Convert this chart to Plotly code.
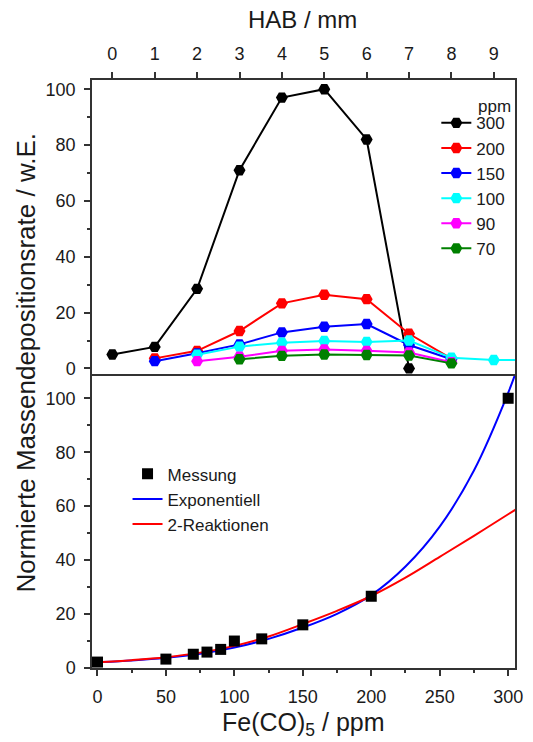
import plotly.graph_objects as go

# ---------------- data ----------------
hab = [0, 1, 2, 3, 4, 5, 6, 7, 8, 9, 10]
series_names = ["300", "200", "150", "100", "90", "70"]
series_colors = ["#000000", "#ff0000", "#0000ff", "#00ffff", "#ff00ff", "#008000"]
s300 = [5.0, 7.7, 28.5, 71.0, 97.0, 100.0, 82.0, 0.0, None, None, None]
s200 = [None, 3.6, 6.3, 13.4, 23.3, 26.4, 24.8, 12.4, 3.5, None, None]
s150 = [None, 2.6, 5.4, 8.6, 12.9, 14.9, 15.9, 8.4, 3.3, None, None]
s100 = [None, None, 4.9, 7.8, 9.2, 9.8, 9.5, 10.0, 3.8, 3.0, 3.0]
s90 = [None, None, 2.6, 4.2, 6.3, 6.8, 6.3, 5.7, 2.2, None, None]
s70 = [None, None, None, 3.3, 4.5, 5.0, 4.8, 4.6, 1.8, None, None]
top_series = [s300, s200, s150, s100, s90, s70]

ppm = [0, 50, 70, 80, 90, 100, 120, 150, 200, 300]
messung = [2.2, 3.3, 5.1, 5.9, 6.9, 10.0, 10.8, 16.0, 26.6, 100.0]

# fitted curves at regular steps
exp_x = [-4, 0, 25, 50, 75, 100, 125, 150, 175, 200, 225, 250, 275, 300, 310]
exp_y = [2.0, 2.1, 2.8, 3.8, 5.3, 7.6, 10.8, 15.0, 20.1, 27.0, 37.6, 52.4, 73.2, 102.0, 116.0]
reak_x = [-4, 0, 25, 50, 75, 100, 125, 150, 175, 200, 225, 250, 275, 300, 310]
reak_y = [2.0, 2.1, 2.9, 4.0, 5.7, 8.2, 11.7, 16.3, 21.2, 26.7, 33.5, 41.2, 49.0, 57.0, 60.2]

FONT = "Arial, Liberation Sans, sans-serif"
AX = "#333333"
TXT = "#1a1a1a"

fig = go.Figure()

for name, col, ys in zip(series_names, series_colors, top_series):
    fig.add_trace(go.Scatter(
        x=hab, y=ys, name=name, mode="lines+markers",
        line=dict(color=col, width=2),
        marker=dict(symbol="hexagon2", size=12, color=col),
        xaxis="x2", yaxis="y2", legend="legend", cliponaxis=True,
    ))

fig.add_trace(go.Scatter(
    x=exp_x, y=exp_y, name="Exponentiell", mode="lines", line_shape="spline",
    line=dict(color="#0000ff", width=2), xaxis="x", yaxis="y", legend="legend2",
))
fig.add_trace(go.Scatter(
    x=reak_x, y=reak_y, name="2-Reaktionen", mode="lines", line_shape="spline",
    line=dict(color="#ff0000", width=2), xaxis="x", yaxis="y", legend="legend2",
))
fig.add_trace(go.Scatter(
    x=ppm, y=messung, name="Messung", mode="markers",
    marker=dict(symbol="square", size=11, color="#000000"),
    xaxis="x", yaxis="y", legend="legend2", legendrank=1,
))

tickfont = dict(family=FONT, size=18, color=TXT)
common = dict(showline=True, linecolor=AX, linewidth=1.5,
              showgrid=False, zeroline=False, ticks="outside", ticklen=6,
              tickwidth=1.5, tickcolor=AX, tickfont=tickfont)
minor_y = dict(ticks="outside", ticklen=3, tickvals=[10, 30, 50, 70, 90], tickcolor=AX, tickwidth=1.5)

fig.update_layout(
    width=533, height=742,
    margin=dict(l=92, r=10, t=80, b=74),
    paper_bgcolor="white", plot_bgcolor="white",
    font=dict(family=FONT, color=TXT),
    xaxis=dict(anchor="y", domain=[0, 1], range=[-4, 305], side="bottom", mirror=False,
               tickmode="linear", tick0=0, dtick=50, ticklabelstandoff=6,
               minor=dict(ticks="outside", ticklen=3, dtick=25, tick0=0, tickcolor=AX, tickwidth=1.5),
               **common),
    yaxis=dict(anchor="x", domain=[0, 0.5], range=[0, 109], mirror=True,
               tickmode="array", tickvals=[0, 20, 40, 60, 80, 100], ticklabelstandoff=5,
               minor=minor_y, **common),
    xaxis2=dict(anchor="y2", domain=[0, 1], range=[-0.48, 9.5], side="top", mirror=True,
                tickmode="linear", tick0=0, dtick=1, ticklabelstandoff=5,
                **common),
    yaxis2=dict(anchor="x2", domain=[0.5, 1], range=[-2, 103.3], mirror=True,
                tickmode="array", tickvals=[0, 20, 40, 60, 80, 100], ticklabelstandoff=5,
                minor=minor_y, **common),
    legend=dict(x=0.814, y=0.957, xanchor="left", yanchor="top",
                bgcolor="rgba(0,0,0,0)", font=dict(family=FONT, size=17, color=TXT),
                tracegroupgap=0, itemsizing="trace"),
    legend2=dict(x=0.084, y=0.36, xanchor="left", yanchor="top",
                 bgcolor="rgba(0,0,0,0)", font=dict(family=FONT, size=17, color=TXT),
                 tracegroupgap=0, traceorder="normal"),
    annotations=[
        dict(text="HAB / mm", x=0.498, y=1.1037, xref="paper", yref="paper",
             showarrow=False, font=dict(family=FONT, size=24, color=TXT),
             xanchor="center", yanchor="middle"),
        dict(text="Fe(CO)<sub>5</sub> / ppm", x=0.5, y=-0.0952, xref="paper", yref="paper",
             showarrow=False, font=dict(family=FONT, size=25, color=TXT),
             xanchor="center", yanchor="middle"),
        dict(text="Normierte Massendepositionsrate / w.E.", x=-0.1555, y=0.52,
             xref="paper", yref="paper", textangle=-90, showarrow=False,
             font=dict(family=FONT, size=26, color=TXT), xanchor="center", yanchor="middle"),
        dict(text="ppm", x=0.952, y=0.9555, xref="paper", yref="paper",
             showarrow=False, font=dict(family=FONT, size=17, color=TXT),
             xanchor="center", yanchor="middle"),
    ],
)

fig.write_html("out.html")
